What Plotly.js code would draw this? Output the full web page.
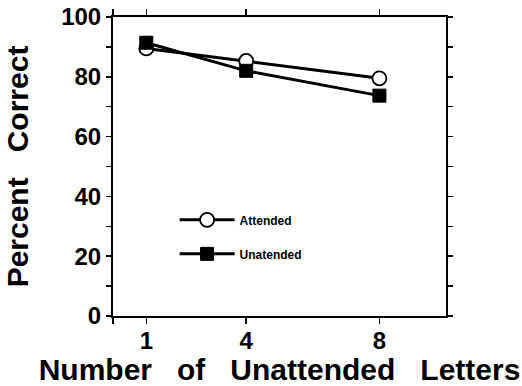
<!DOCTYPE html>
<html>
<head>
<meta charset="utf-8">
<script src="https://cdn.plot.ly/plotly-3.0.1.min.js"></script>
<style>html,body{margin:0;padding:0;background:#fff;}#chart{width:522px;height:386px;}</style>
</head>
<body>
<div id="chart"></div>
<script>
// Data
const letters = [1, 4, 8];
const attended = [89.5, 85.3, 79.5];
const unattended = [91.4, 82.0, 73.7];
const seriesNames = ["Attended", "Unatended"];
const xTickVals = [0, 1, 4, 8];
const xTickText = ["", "1", "4", "8"];

const FONT = "Liberation Sans, Arial, Helvetica, sans-serif";
const SP = "\u00A0\u00A0\u00A0";

const traces = [
  {
    x: letters, y: attended, name: seriesNames[0], type: "scatter", mode: "lines+markers",
    line: {color: "#000", width: 3},
    marker: {symbol: "circle", size: 14, color: "#fff", line: {color: "#000", width: 1.8}},
    legendgroup: "a"
  },
  {
    x: letters, y: unattended, name: seriesNames[1], type: "scatter", mode: "lines+markers",
    line: {color: "#000", width: 3},
    marker: {symbol: "square", size: 13, color: "#000", line: {color: "#000", width: 1}},
    legendgroup: "u"
  }
];

const layout = {
  width: 522, height: 386,
  margin: {l: 113, r: 76, t: 17, b: 70},
  paper_bgcolor: "#fff", plot_bgcolor: "#fff",
  font: {family: FONT, color: "#000", weight: "bold"},
  showlegend: true,
  legend: {
    x: 0.185, y: 0.37, xanchor: "left", yanchor: "top",
    bgcolor: "rgba(0,0,0,0)",
    font: {family: FONT, size: 12, color: "#000", weight: "bold"},
    tracegroupgap: 15, itemwidth: 55, traceorder: "grouped"
  },
  xaxis: {
    range: [0, 10],
    tickvals: xTickVals, ticktext: xTickText,
    ticks: "outside", ticklen: 6, tickwidth: 1.5, tickcolor: "#000",
    ticklabelstandoff: -4,
    showline: true, linecolor: "#000", linewidth: 2, mirror: "allticks",
    showgrid: false, zeroline: false,
    tickfont: {family: FONT, size: 24, color: "#000", weight: "bold"},
    title: {text: "Number" + SP + "of" + SP + "Unattended" + SP + "Letters", font: {family: FONT, size: 30, color: "#000", weight: "bold"}, standoff: 11}
  },
  yaxis: {
    range: [0, 100],
    tickvals: [0, 20, 40, 60, 80, 100],
    ticks: "outside", ticklen: 5, tickwidth: 1.5, tickcolor: "#000",
    minor: {dtick: 10, ticks: "outside", ticklen: 5, tickwidth: 1.5, tickcolor: "#000", showgrid: false},
    showline: true, linecolor: "#000", linewidth: 2, mirror: "allticks",
    showgrid: false, zeroline: false,
    tickfont: {family: FONT, size: 24, color: "#000", weight: "bold"},
    title: {text: "Percent" + SP + "Correct", font: {family: FONT, size: 30, color: "#000", weight: "bold"}, standoff: 24}
  }
};

Plotly.newPlot("chart", traces, layout, {displayModeBar: false, staticPlot: true});
</script>
</body>
</html>
